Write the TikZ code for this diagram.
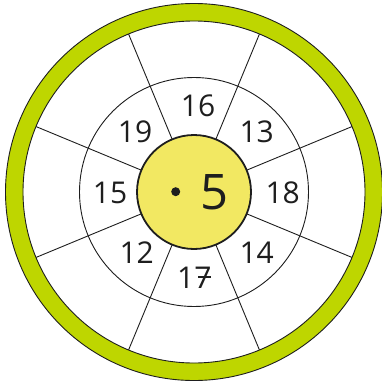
\documentclass[tikz,border=0pt]{standalone}
\usepackage{fontspec}
\setmainfont{Open Sans}
\usetikzlibrary{calc}
\definecolor{ringgreen}{RGB}{190,214,0}
\definecolor{centeryellow}{RGB}{242,232,98}
\definecolor{inkdark}{RGB}{30,30,30}
\tikzset{
  numlabel/.style={font=\fontsize{30}{30}\selectfont, text=inkdark, inner sep=0pt},
  spoke/.style={draw=inkdark, line width=0.9pt},
  ringline/.style={draw=inkdark, line width=0.9pt},
}
\newcommand{\crossseven}{7\llap{\raisebox{0.36em}{\rule{0.42em}{0.07em}}\hspace{0.02em}}}
\begin{document}
\begin{tikzpicture}[x=1pt,y=-1pt]
\useasboundingbox (0,0) rectangle (382,385);
\coordinate (c) at (194,192);
% white disk
\fill[white] (c) circle (171);
% spokes
\foreach \i/\a in {1/22.5,2/67.5,3/112.5,4/157.5,5/202.5,6/247.5,7/292.5,8/337.5}{
  \coordinate (s\i) at ($(c)+(\a:57)$);
  \coordinate (e\i) at ($(c)+(\a:171)$);
  \draw[spoke] (s\i) -- (e\i);
}
% middle circle
\draw[ringline] (c) circle (114.5);
% yellow centre
\draw[fill=centeryellow, draw=inkdark, line width=1.8pt] (c) circle (57);
% green ring
\fill[ringgreen, even odd rule] (c) circle (188.5) (c) circle (171);
\draw[ringline] (c) circle (188.5);
\draw[ringline] (c) circle (171);
% centre text
\fill[inkdark] (175.7,191.7) circle (4.5);
\node[font=\fontsize{49}{49}\selectfont, text=inkdark, inner sep=0pt] (five) at (214.7,192.5) {5};
% numbers
\node[numlabel] (n16) at (198,106) {16};
\node[numlabel] (n13) at (256.7,131.7) {13};
\node[numlabel] (n18) at (282.7,193) {18};
\node[numlabel] (n14) at (256.7,253) {14};
\node[numlabel] (n17) at (194.3,278) {1\crossseven};
\node[numlabel] (n12) at (136.7,253) {12};
\node[numlabel] (n15) at (110,193) {15};
\node[numlabel] (n19) at (135,131.7) {19};
\end{tikzpicture}
\end{document}
